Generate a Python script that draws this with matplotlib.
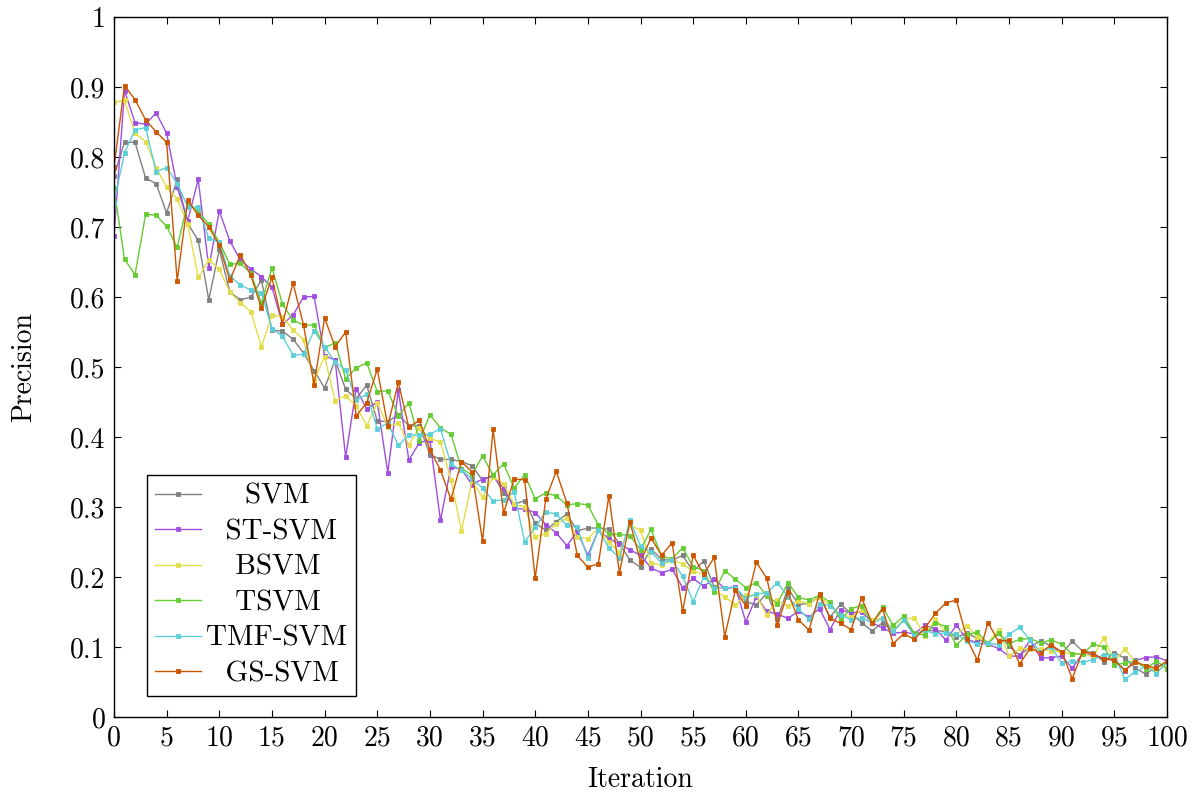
import matplotlib
matplotlib.use("Agg")
import matplotlib.pyplot as plt
import numpy as np

plt.rcParams["font.family"] = ["cmr10", "DejaVu Serif"]
plt.rcParams["axes.unicode_minus"] = False

iterations = np.arange(0, 101)

svm = [
    0.773, 0.821, 0.821, 0.770, 0.762, 0.720, 0.768, 0.705, 0.681, 0.596, 0.668,
    0.607, 0.596, 0.600, 0.624, 0.553, 0.551, 0.540, 0.520, 0.495, 0.470,
    0.510, 0.468, 0.455, 0.474, 0.423, 0.422, 0.432, 0.416, 0.416, 0.375,
    0.368, 0.368, 0.365, 0.359, 0.338, 0.346, 0.320, 0.304, 0.309, 0.277,
    0.267, 0.279, 0.290, 0.266, 0.270, 0.270, 0.268, 0.248, 0.224, 0.214,
    0.240, 0.225, 0.224, 0.231, 0.208, 0.223, 0.186, 0.184, 0.185, 0.165,
    0.160, 0.177, 0.140, 0.184, 0.161, 0.162, 0.172, 0.143, 0.161, 0.148,
    0.135, 0.123, 0.135, 0.122, 0.139, 0.119, 0.123, 0.124, 0.122, 0.114,
    0.120, 0.112, 0.105, 0.120, 0.101, 0.088, 0.100, 0.109, 0.101, 0.091,
    0.108, 0.094, 0.092, 0.079, 0.092, 0.084, 0.070, 0.061, 0.073, 0.074,
]
st_svm = [
    0.687, 0.895, 0.849, 0.847, 0.863, 0.834, 0.757, 0.709, 0.768, 0.642, 0.723,
    0.680, 0.653, 0.640, 0.629, 0.614, 0.561, 0.574, 0.600, 0.601, 0.516,
    0.510, 0.371, 0.469, 0.440, 0.450, 0.349, 0.467, 0.367, 0.392, 0.396,
    0.281, 0.357, 0.354, 0.332, 0.340, 0.344, 0.327, 0.298, 0.297, 0.292,
    0.275, 0.263, 0.245, 0.265, 0.231, 0.267, 0.255, 0.247, 0.239, 0.231,
    0.213, 0.206, 0.211, 0.185, 0.198, 0.187, 0.197, 0.184, 0.186, 0.136,
    0.172, 0.151, 0.147, 0.141, 0.151, 0.143, 0.155, 0.125, 0.153, 0.149,
    0.150, 0.135, 0.127, 0.120, 0.121, 0.119, 0.131, 0.126, 0.110, 0.131,
    0.111, 0.106, 0.104, 0.098, 0.087, 0.087, 0.110, 0.084, 0.085, 0.087,
    0.070, 0.091, 0.088, 0.083, 0.083, 0.066, 0.081, 0.085, 0.086, 0.080,
]
bsvm = [
    0.878, 0.881, 0.834, 0.822, 0.785, 0.757, 0.740, 0.705, 0.628, 0.653, 0.640,
    0.607, 0.592, 0.579, 0.529, 0.574, 0.572, 0.553, 0.539, 0.481, 0.515,
    0.452, 0.459, 0.444, 0.416, 0.449, 0.415, 0.420, 0.389, 0.413, 0.398,
    0.393, 0.339, 0.266, 0.337, 0.314, 0.343, 0.333, 0.304, 0.300, 0.257,
    0.262, 0.276, 0.284, 0.257, 0.255, 0.270, 0.250, 0.235, 0.274, 0.267,
    0.220, 0.217, 0.224, 0.219, 0.208, 0.204, 0.181, 0.172, 0.160, 0.174,
    0.174, 0.146, 0.167, 0.158, 0.166, 0.162, 0.172, 0.159, 0.146, 0.143,
    0.153, 0.138, 0.142, 0.124, 0.139, 0.142, 0.116, 0.140, 0.120, 0.118,
    0.130, 0.115, 0.106, 0.125, 0.087, 0.098, 0.097, 0.097, 0.095, 0.093,
    0.090, 0.091, 0.086, 0.113, 0.080, 0.097, 0.079, 0.072, 0.067, 0.074,
]
tsvm = [
    0.756, 0.654, 0.632, 0.718, 0.717, 0.701, 0.671, 0.735, 0.722, 0.704, 0.678,
    0.647, 0.648, 0.634, 0.591, 0.642, 0.590, 0.567, 0.560, 0.560, 0.527,
    0.535, 0.483, 0.499, 0.506, 0.465, 0.466, 0.430, 0.449, 0.395, 0.432,
    0.413, 0.404, 0.355, 0.346, 0.373, 0.346, 0.362, 0.327, 0.346, 0.312,
    0.320, 0.316, 0.303, 0.305, 0.303, 0.274, 0.261, 0.261, 0.259, 0.239,
    0.268, 0.230, 0.226, 0.242, 0.215, 0.209, 0.178, 0.209, 0.197, 0.185,
    0.192, 0.173, 0.162, 0.192, 0.171, 0.167, 0.174, 0.164, 0.139, 0.155,
    0.159, 0.134, 0.157, 0.131, 0.144, 0.120, 0.117, 0.135, 0.129, 0.103,
    0.118, 0.121, 0.105, 0.120, 0.105, 0.111, 0.112, 0.106, 0.110, 0.104,
    0.090, 0.090, 0.104, 0.100, 0.075, 0.077, 0.080, 0.069, 0.080, 0.069,
]
tmf_svm = [
    0.735, 0.806, 0.839, 0.842, 0.779, 0.785, 0.762, 0.729, 0.728, 0.684, 0.678,
    0.630, 0.617, 0.610, 0.606, 0.555, 0.544, 0.517, 0.518, 0.552, 0.529,
    0.507, 0.496, 0.453, 0.461, 0.412, 0.420, 0.388, 0.403, 0.403, 0.404,
    0.412, 0.361, 0.353, 0.340, 0.327, 0.309, 0.310, 0.322, 0.250, 0.271,
    0.293, 0.290, 0.274, 0.271, 0.227, 0.267, 0.242, 0.227, 0.281, 0.244,
    0.236, 0.220, 0.224, 0.201, 0.165, 0.200, 0.185, 0.185, 0.185, 0.170,
    0.176, 0.177, 0.192, 0.172, 0.154, 0.140, 0.162, 0.159, 0.146, 0.139,
    0.142, 0.134, 0.141, 0.123, 0.138, 0.116, 0.124, 0.119, 0.120, 0.118,
    0.109, 0.104, 0.106, 0.103, 0.118, 0.128, 0.110, 0.093, 0.100, 0.077,
    0.080, 0.078, 0.082, 0.089, 0.089, 0.054, 0.065, 0.073, 0.062, 0.079,
]
gs_svm = [
    0.786, 0.902, 0.882, 0.853, 0.836, 0.821, 0.623, 0.738, 0.717, 0.700, 0.674,
    0.624, 0.660, 0.631, 0.584, 0.628, 0.562, 0.620, 0.560, 0.475, 0.570,
    0.529, 0.550, 0.430, 0.449, 0.497, 0.416, 0.478, 0.414, 0.424, 0.382,
    0.353, 0.311, 0.365, 0.350, 0.251, 0.411, 0.291, 0.340, 0.339, 0.198,
    0.311, 0.351, 0.306, 0.231, 0.214, 0.219, 0.316, 0.206, 0.279, 0.222,
    0.256, 0.231, 0.249, 0.151, 0.231, 0.204, 0.228, 0.115, 0.181, 0.159,
    0.221, 0.198, 0.132, 0.178, 0.139, 0.124, 0.176, 0.141, 0.134, 0.125,
    0.170, 0.134, 0.154, 0.105, 0.119, 0.111, 0.127, 0.148, 0.163, 0.167,
    0.112, 0.081, 0.135, 0.108, 0.110, 0.076, 0.098, 0.092, 0.103, 0.093,
    0.055, 0.094, 0.090, 0.083, 0.081, 0.067, 0.079, 0.073, 0.070, 0.080,
]

names = ["SVM", "ST-SVM", "BSVM", "TSVM", "TMF-SVM", "GS-SVM"]
series = [svm, st_svm, bsvm, tsvm, tmf_svm, gs_svm]
colors = ["#808080", "#a04ee0", "#e3de4a", "#66cc33", "#5ccfd8", "#cc5500"]

x_ticks = np.arange(0, 101, 5)
y_ticks = np.round(np.arange(0, 1.01, 0.1), 1)
y_tick_labels = ["0"] + [f"{v:.1f}" for v in y_ticks[1:-1]] + ["1"]

fig = plt.figure(figsize=(12, 7.96), dpi=100)
ax = fig.add_axes([0.095, 0.0992, 0.8775, 0.8794])

for name, values, color in zip(names, series, colors):
    ax.plot(
        iterations,
        values,
        color=color,
        linewidth=1.0,
        marker="s",
        markersize=2.8,
        markeredgewidth=0.6,
        label=name,
    )

ax.set_xlim(0, 100)
ax.set_ylim(0, 1)
ax.set_xticks(x_ticks)
ax.set_xticklabels([str(t) for t in x_ticks], fontsize=20)
ax.set_yticks(y_ticks)
ax.set_yticklabels(y_tick_labels, fontsize=20)
ax.tick_params(direction="in", top=True, right=True, length=5, width=0.8, pad=6)
for spine in ax.spines.values():
    spine.set_linewidth(1.0)

ax.set_xlabel("Iteration", fontsize=20, labelpad=11)
ax.set_ylabel("Precision", fontsize=20, labelpad=24)

# pad labels with spaces so they look centred like the pgfplots legend
pads = [4, 2, 3, 3, 0, 2]
labels = [" " * p + n for p, n in zip(pads, names)]
leg = ax.legend(
    ax.get_lines(),
    labels,
    loc="lower left",
    bbox_to_anchor=(0.031, 0.03),
    fontsize=21,
    frameon=True,
    fancybox=False,
    edgecolor="black",
    framealpha=1,
    handlelength=1.55,
    handletextpad=0.2,
    labelspacing=0.31,
    borderpad=0.3,
    borderaxespad=0,
)
leg.get_frame().set_linewidth(1.0)

fig.savefig("out.png", dpi=100)
